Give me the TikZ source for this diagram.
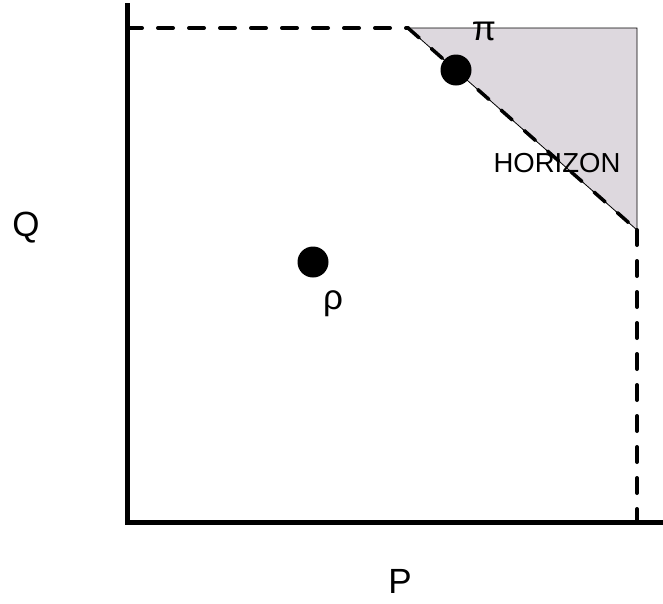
\documentclass[tikz,border=0pt]{standalone}
\usepackage{fontspec}
\setmainfont{Liberation Sans}
\definecolor{horizonfill}{HTML}{DDD8DE}
\begin{document}
\begin{tikzpicture}[x=1pt,y=-1pt,
  axisline/.style={line width=5pt},
  dashline/.style={line width=4pt,dash pattern=on 15pt off 16pt,line cap=round},
  dot/.style={circle,fill=black,inner sep=0pt,minimum size=31pt},
  lbl/.style={inner sep=0pt,font=\fontsize{35}{35}\selectfont}]
\useasboundingbox (0,0) rectangle (663,603);
\coordinate (top) at (127,3);
\coordinate (origin) at (127,522);
\coordinate (xend) at (663,522);
\coordinate (ytick) at (127,28);
\coordinate (hA) at (408,28);
\coordinate (hB) at (637,28);
\coordinate (hC) at (637,230);
\coordinate (hD) at (637,522);
\fill[horizonfill] (hA) -- (hB) -- (hC) -- cycle;
\draw[line width=0.8pt] (hA) -- (hB) -- (hC) -- cycle;
\draw[dashline] (ytick) -- (hA);
\draw[dashline,line width=3.5pt] (hA) -- (hC);
\draw[dashline] (hC) -- (hD);
\draw[axisline] (top) -- (origin) -- (xend);
\node[dot] (pi) at (456,70) {};
\node[dot] (rho) at (313,262) {};
\node[lbl] (pilbl) at (484,31) {π};
\node[lbl] (rholbl) at (333,304) {ρ};
\node[inner sep=0pt,font=\fontsize{27.5}{27.5}\selectfont] (hz) at (557,163) {HORIZON};
\node[lbl] (q) at (26,228) {Q};
\node[lbl] (p) at (400,581) {P};
\end{tikzpicture}
\end{document}
